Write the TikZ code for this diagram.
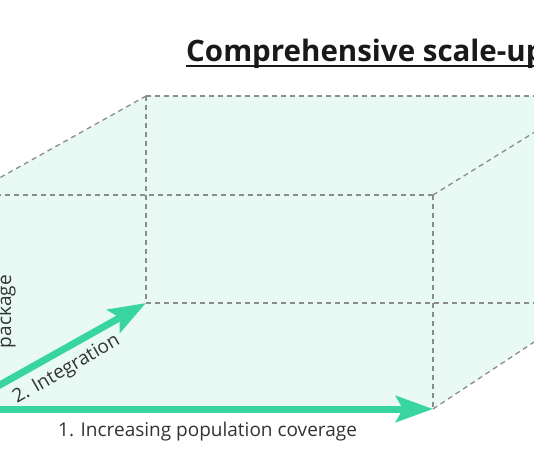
\documentclass[tikz,border=0pt]{standalone}
\usepackage{fontspec}
\setmainfont{Open Sans}
\usetikzlibrary{arrows.meta,calc}
\definecolor{mint}{HTML}{E9F9F4}
\definecolor{arrowgreen}{HTML}{38D5A0}
\definecolor{dashgray}{HTML}{8C8C8C}
\definecolor{textdark}{HTML}{333333}
\tikzset{
  edge/.style={draw=dashgray, line width=1.3pt, dash pattern=on 5pt off 4pt},
  bigarrow/.style={draw=arrowgreen, line width=7pt, -{Stealth[length=37pt,width=26pt,inset=7pt]}},
  lbl/.style={text=textdark, font=\fontsize{19}{22}\selectfont, inner sep=0pt},
  ttl/.style={text=black!90, font=\fontsize{29.5}{33}\selectfont\bfseries, inner sep=0pt}
}
\begin{document}
\begin{tikzpicture}[x=1pt,y=-1pt]
\useasboundingbox (0,0) rectangle (534,462);
\clip (0,0) rectangle (534,462);
\coordinate (FLB) at (-43,409);
\coordinate (FLT) at (-31,195);
\coordinate (FRB) at (433,409);
\coordinate (FRT) at (433,195);
\coordinate (BLB) at (146,303);
\coordinate (BLT) at (146,96);
\coordinate (BRB) at (593,303);
\coordinate (BRT) at (593,96);
\fill[mint] (FLB) -- (FRB) -- (BRB) -- (BRT) -- (BLT) -- (FLT) -- cycle;
\draw[edge] (FLT) -- (FRT);
\draw[edge] (FRT) -- (FRB);
\draw[edge] (FLT) -- (BLT);
\draw[edge] (BLT) -- (BRT);
\draw[edge] (FRT) -- (BRT);
\draw[edge] (BLT) -- (BLB);
\draw[edge] (BLB) -- (BRB);
\draw[edge] (FRB) -- (BRB);
\draw[bigarrow] (FLB) -- (FRB);
\draw[bigarrow] (FLB) -- (BLB);
\node[lbl, anchor=base west] (cov) at (58,436) {1. Increasing population coverage};
\node[lbl, anchor=base west, rotate=30] (integ) at (17,404) {2. Integration};
\node[lbl, anchor=base east, rotate=90] (pkg) at (11,275) {package};
\node[ttl, anchor=base west] (title) at (186,62) {Comprehensive scale-up};
\draw[black!90, line width=2pt] ($(title.base west)+(0,4)$) -- ($(title.base east)+(0,4)$);
\end{tikzpicture}
\end{document}
